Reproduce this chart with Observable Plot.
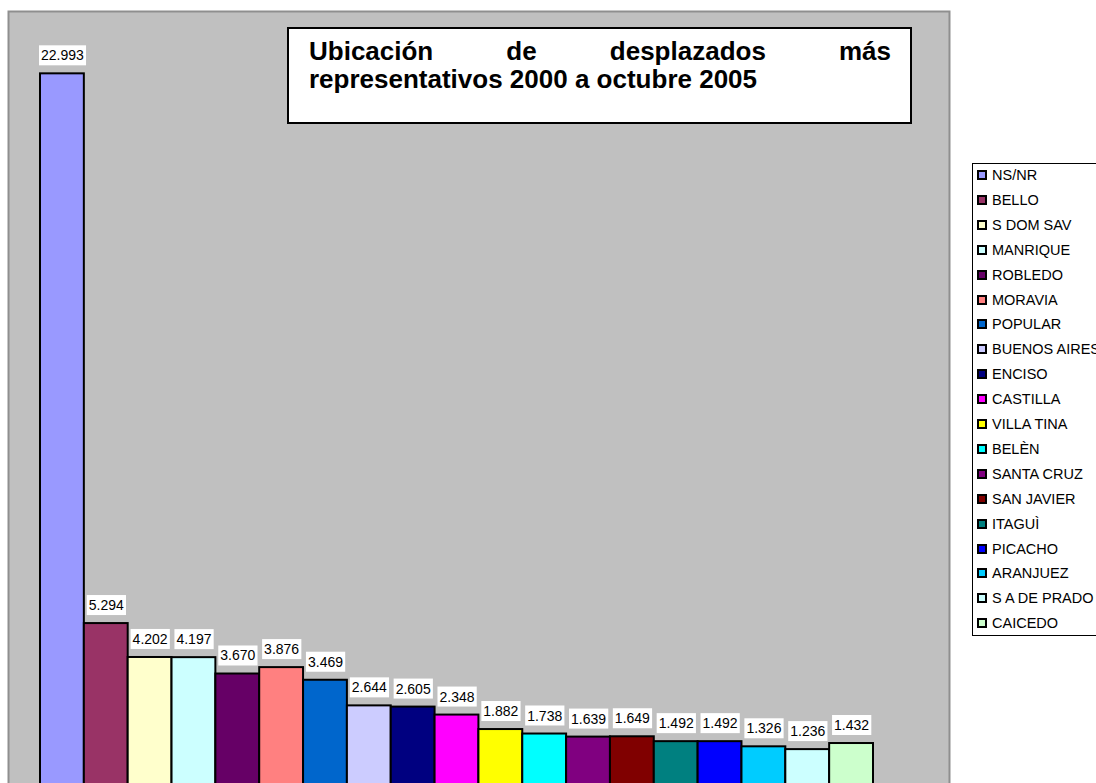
<!DOCTYPE html>
<html><head><meta charset="utf-8">
<script src="https://cdn.jsdelivr.net/npm/d3@7"></script>
<script src="https://cdn.jsdelivr.net/npm/@observablehq/plot@0.6"></script>
<style>
html,body{margin:0;padding:0;background:#fff;overflow:hidden}
#wrap{position:relative;width:1096px;height:783px;overflow:hidden;font-family:"Liberation Sans",Arial,sans-serif}
#wrap svg{position:absolute;left:0;top:0}
#title{position:absolute;left:287px;top:27px;width:625px;height:97px;box-sizing:border-box;border:2px solid #000;background:#fff;padding:8px 19px 0 20px;font-weight:bold;font-size:26px;line-height:28px;color:#000}
#title .l1{text-align:justify;text-align-last:justify}
#legend{position:absolute;left:972px;top:163px;width:150px;height:473px;box-sizing:border-box;border:1px solid #000;background:#fff}
.li{position:absolute;left:4px;height:16px;display:flex;align-items:center;font-size:14.5px;white-space:nowrap;color:#000}
.sw{width:6px;height:6px;border:2px solid #000;margin-right:5px;flex:none}
</style>
</head><body>
<div id="wrap">
  <div id="chart"></div>
  <div id="title"><div class="l1">Ubicación de desplazados más</div><div class="l2">representativos 2000 a octubre 2005</div></div>
  <div id="legend"></div>
</div>
<script>
const categories = ["NS/NR","BELLO","S DOM SAV","MANRIQUE","ROBLEDO","MORAVIA","POPULAR","BUENOS AIRES","ENCISO","CASTILLA","VILLA TINA","BELÈN","SANTA CRUZ","SAN JAVIER","ITAGUÌ","PICACHO","ARANJUEZ","S A DE PRADO","CAICEDO"];
const values = [22993,5294,4202,4197,3670,3876,3469,2644,2605,2348,1882,1738,1639,1649,1492,1492,1326,1236,1432];
const colors = ["#9999FF","#993366","#FFFFCC","#CCFFFF","#660066","#FF8080","#0066CC","#CCCCFF","#000080","#FF00FF","#FFFF00","#00FFFF","#800080","#800000","#008080","#0000FF","#00CCFF","#CCFFFF","#CCFFCC"];
const yTicks = [0,25000];

const data = categories.map((c,i)=>({name:c, value:values[i]}));
const fmt = d3.formatLocale({decimal:",", thousands:".", grouping:[3], currency:["$",""]}).format(",d");

const chart = Plot.plot({
  width:1096, height:800,
  marginLeft:8, marginRight:147, marginTop:11, marginBottom:12.5,
  x:{domain:categories, range:[40,873], padding:0, round:false, axis:null},
  y:{domain:yTicks, axis:null},
  color:{type:"ordinal", domain:categories, range:colors},
  style:{fontFamily:'"Liberation Sans", Arial, sans-serif', background:"transparent", overflow:"visible"},
  marks:[
    Plot.frame({fill:"#C0C0C0", stroke:"#8f8f8f", strokeWidth:2}),
    Plot.barY(data,{x:"name", y:"value", fill:"name", stroke:"#000", strokeWidth:2}),
    Plot.text(data,{x:"name", y:"value", text:d=>fmt(d.value), dy:-18, fontSize:14, fill:"#000", className:"vlab"})
  ]
});
document.getElementById("chart").appendChild(chart);

// white boxes behind value labels
chart.querySelectorAll(".vlab text").forEach(t=>{
  const b = t.getBBox();
  const r = document.createElementNS("http://www.w3.org/2000/svg","rect");
  r.setAttribute("x", b.x-2);
  r.setAttribute("y", b.y + b.height/2 - 10);
  r.setAttribute("width", b.width+4);
  r.setAttribute("height", 20);
  r.setAttribute("fill", "#fff");
  if (t.getAttribute("transform")) r.setAttribute("transform", t.getAttribute("transform"));
  t.parentNode.insertBefore(r, t);
});

// legend
const leg = document.getElementById("legend");
categories.forEach((c,i)=>{
  const d = document.createElement("div");
  d.className = "li";
  d.style.top = (3 + 24.9*i) + "px";
  const s = document.createElement("span");
  s.className = "sw";
  s.style.background = colors[i];
  d.appendChild(s);
  d.appendChild(document.createTextNode(c));
  leg.appendChild(d);
});
</script>
</body></html>
